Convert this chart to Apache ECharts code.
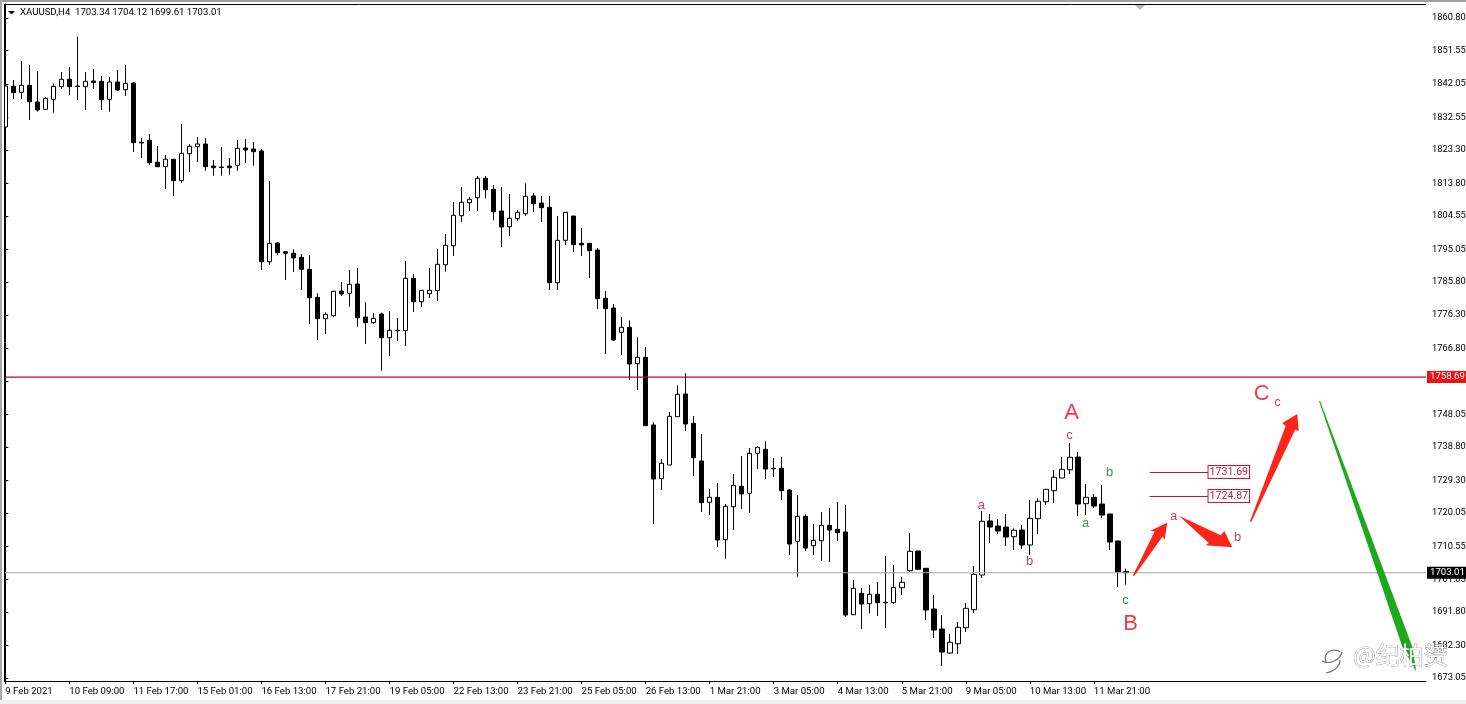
<!DOCTYPE html>
<html><head><meta charset="utf-8">
<style>html,body{margin:0;padding:0;background:#fff}#c{width:1466px;height:704px}</style>
<script src="https://cdn.jsdelivr.net/npm/echarts@6/dist/echarts.min.js"></script>
</head><body><div id="c"></div>
<script>
const timeLabels = ['9 Feb 2021','10 Feb 09:00','11 Feb 17:00','15 Feb 01:00','16 Feb 13:00','17 Feb 21:00','19 Feb 05:00','22 Feb 13:00','23 Feb 21:00','25 Feb 05:00','26 Feb 13:00','1 Mar 21:00','3 Mar 05:00','4 Mar 13:00','5 Mar 21:00','9 Mar 05:00','10 Mar 13:00','11 Mar 21:00'];
const priceTicks = [1860.80,1851.55,1842.05,1832.55,1823.30,1813.80,1804.55,1795.05,1785.80,1776.30,1766.80,1757.55,1748.05,1738.80,1729.30,1720.05,1710.55,1701.05,1691.80,1682.30,1673.05];
const opens = [1829.83,1841.41,1839.70,1841.69,1836.94,1834.86,1837.71,1841.29,1843.40,1841.49,1841.29,1842.92,1842.83,1837.71,1842.63,1840.44,1842.35,1825.48,1826.04,1819.79,
1818.53,1820.64,1814.55,1822.23,1824.22,1824.99,1818.73,1818.45,1818.73,1818.93,1823.85,1823.57,1823.00,1791.51,1796.83,1794.35,1793.90,1792.76,1789.34,1781.38,
1775.29,1776.14,1783.17,1782.52,1785.16,1775.77,1774.15,1776.63,1769.88,1771.99,1771.88,1786.78,1780.13,1782.40,1783.26,1790.65,1796.06,1804.59,1808.29,1809.72,
1815.23,1812.10,1805.93,1801.46,1803.74,1805.16,1810.20,1808.21,1806.98,1785.53,1797.59,1804.51,1796.74,1796.74,1794.83,1781.09,1778.33,1771.42,1772.84,1762.49,
1764.31,1745.05,1729.77,1733.67,1747.41,1753.87,1745.53,1734.81,1723.06,1724.48,1712.42,1721.80,1727.61,1725.62,1737.00,1738.13,1732.73,1732.73,1726.55,1711.96,
1719.07,1710.71,1712.13,1716.51,1715.37,1714.61,1691.08,1697.17,1694.21,1696.88,1694.61,1694.49,1698.76,1703.60,1709.20,1704.28,1692.70,1687.01,1680.18,1682.83,
1687.38,1692.50,1702.37,1717.74,1716.31,1716.03,1713.27,1715.17,1710.91,1718.39,1723.23,1726.36,1729.97,1732.33,1735.94,1722.66,1724.48,1722.57,1719.73,1712.05,1703.34];
const closes = [1841.49,1839.59,1841.69,1837.03,1834.66,1837.99,1841.41,1843.40,1841.29,1841.35,1842.83,1842.49,1837.60,1842.63,1840.35,1842.26,1825.36,1825.28,1819.67,1818.53,
1820.64,1814.55,1822.35,1824.34,1824.99,1818.53,1818.25,1818.31,1818.25,1823.77,1823.28,1822.80,1791.51,1796.74,1794.07,1793.90,1792.56,1789.34,1781.26,1775.29,
1776.54,1783.09,1782.32,1785.08,1775.58,1774.15,1775.40,1769.88,1771.99,1771.88,1786.78,1780.13,1783.37,1783.37,1790.77,1796.17,1804.71,1808.41,1809.26,1815.23,
1811.99,1805.73,1801.38,1803.85,1805.56,1810.11,1808.01,1806.87,1785.53,1797.59,1805.56,1796.34,1796.26,1794.64,1780.98,1778.13,1769.23,1772.84,1762.40,1764.31,
1744.85,1729.68,1734.15,1747.52,1753.78,1745.33,1735.74,1722.94,1724.48,1712.33,1721.92,1727.89,1725.42,1737.00,1738.70,1732.53,1732.61,1726.36,1711.19,1719.07,
1710.05,1712.24,1716.51,1715.17,1714.41,1690.99,1698.59,1694.12,1696.88,1694.49,1694.49,1698.87,1700.30,1709.12,1703.99,1692.41,1686.72,1680.47,1683.23,1687.49,
1692.90,1702.57,1717.65,1716.03,1714.89,1713.18,1715.09,1710.91,1718.50,1723.34,1726.75,1730.17,1732.44,1735.86,1722.57,1724.48,1722.00,1719.44,1711.76,1703.23,1703.01];
const lows = [1828.69,1837.79,1837.79,1831.82,1834.18,1834.58,1833.90,1840.64,1838.93,1837.51,1834.66,1840.64,1834.66,1834.18,1840.16,1838.65,1822.72,1821.01,1819.10,1818.53,
1812.19,1810.20,1813.98,1817.03,1819.87,1817.40,1815.97,1815.97,1816.26,1817.40,1819.59,1818.82,1789.14,1790.57,1793.50,1786.30,1788.58,1783.45,1773.78,1769.23,
1770.94,1775.69,1781.75,1778.70,1773.01,1768.09,1773.87,1760.50,1764.68,1768.95,1767.52,1777.20,1778.62,1781.18,1780.33,1788.66,1793.13,1802.80,1805.93,1805.93,
1809.54,1803.28,1795.69,1798.82,1803.17,1804.59,1805.65,1802.80,1783.45,1783.45,1796.26,1794.27,1793.13,1786.87,1778.05,1765.25,1769.03,1764.96,1757.85,1755.00,
1744.85,1716.88,1726.55,1733.67,1747.41,1743.34,1730.54,1720.30,1719.44,1710.34,1707.01,1715.17,1721.15,1720.01,1732.53,1729.68,1730.25,1723.71,1708.06,1701.89,
1709.20,1708.06,1706.36,1706.07,1712.05,1690.42,1691.08,1687.01,1691.48,1690.71,1687.29,1694.12,1696.68,1703.31,1703.79,1689.57,1684.45,1676.48,1679.98,1679.90,
1686.16,1691.56,1701.52,1711.48,1714.04,1710.62,1709.48,1709.77,1708.06,1714.04,1722.29,1722.86,1729.88,1731.11,1719.16,1719.44,1721.43,1718.59,1709.48,1698.96,1699.61];
const highs = [1841.78,1843.20,1848.61,1847.47,1845.76,1838.28,1842.26,1845.48,1846.90,1855.52,1845.48,1846.33,1844.34,1844.05,1846.04,1847.47,1842.63,1826.70,1827.84,1824.42,
1821.86,1820.64,1830.68,1824.91,1826.98,1826.70,1820.44,1824.14,1821.01,1826.13,1826.41,1825.56,1823.57,1814.47,1797.11,1794.35,1795.03,1793.70,1793.41,1782.52,
1777.11,1783.26,1785.73,1789.14,1789.71,1779.96,1776.83,1777.00,1777.48,1775.49,1791.71,1788.01,1783.37,1789.71,1795.12,1799.39,1808.49,1812.76,1809.91,1815.89,
1815.89,1813.33,1812.76,1810.77,1806.13,1813.81,1811.05,1810.20,1810.20,1804.51,1805.56,1804.51,1801.09,1796.74,1795.40,1783.17,1779.47,1775.77,1774.83,1770.00,
1767.24,1745.82,1735.37,1748.75,1756.34,1759.76,1747.61,1742.49,1726.84,1728.55,1722.57,1731.11,1736.23,1738.50,1739.07,1740.41,1735.66,1735.94,1726.84,1725.13,
1719.64,1716.88,1720.30,1721.43,1723.14,1722.29,1700.95,1698.67,1699.53,1700.38,1707.78,1705.22,1701.80,1714.32,1709.20,1704.28,1696.68,1690.99,1685.59,1689.00,
1694.41,1704.93,1720.58,1719.73,1718.30,1719.73,1715.66,1716.60,1723.71,1724.19,1726.75,1732.24,1735.94,1739.93,1737.37,1728.26,1725.42,1727.98,1719.73,1712.05,1704.12];
const lineLevels = [1731.69,1724.87];
const resistanceLevel = 1758.69;
const lastPrice = 1703.01;
const waveLabelsBig = [['A',133.21,1748.47],['B',140.59,1688.44],['C',156.96,1753.90]];
const waveLabelsMinor = [['a',121.96,1722.29],['b',127.96,1706.36],['c',132.96,1742.20],['a',145.96,1719.16],['b',153.96,1713.18],['c',158.96,1751.60]];
const waveLabelsGreen = [['a',134.96,1717.17],['b',137.96,1731.68],['c',139.96,1695.26]];
const arrowOne = [[140.88,1702.20],[143.60,1714.75],[143.05,1715.00],[145.17,1717.26],[144.85,1712.40],[144.60,1713.30],[141.02,1702.00]];
const arrowTwo = [[146.63,1719.26],[151.85,1713.67],[152.30,1714.90],[153.29,1710.24],[149.98,1710.81],[150.35,1711.50],[146.70,1719.06]];
const arrowThree = [[155.50,1717.60],[159.95,1744.70],[159.55,1745.62],[161.42,1748.18],[161.60,1743.33],[161.15,1743.72],[155.68,1717.50]];
const greenWedge = [[164.13,1751.88],[164.27,1751.88],[175.79,1681.98],[176.29,1674.87],[174.54,1681.98]];

const UI = 'Roboto, "Liberation Sans", sans-serif';
const BAR_COUNT = 178;
const categories = Array.from({length:BAR_COUNT},(_,i)=> (i%8===0 && timeLabels[i/8]) || ('bar '+i));
const isTimeTick = i => i%8===0 && i/8 < timeLabels.length;
const ohlc = opens.map((o,i)=>[o,closes[i],lows[i],highs[i]]);

const polygon = (name,pts,fill) => ({
  type:'custom',name,xAxisIndex:1,yAxisIndex:0,z:6,silent:true,clip:false,
  data:pts,
  encode:{x:0,y:1},
  renderItem:(p,api)=> p.dataIndex!==0 ? null : ({type:'polygon',shape:{points:pts.map(q=>api.coord(q))},style:{fill}})
});
const labels = (name,rows,color,size) => ({
  type:'scatter',name,xAxisIndex:1,yAxisIndex:0,symbolSize:0,z:7,silent:true,
  data:rows.map(r=>({name:r[0],value:[r[1],r[2]]})),
  label:{show:true,position:'inside',formatter:'{b}',color,fontSize:size,fontFamily:'"Liberation Sans", Arial, sans-serif'}
});
const priceLine = (name,value,lineColor,width,tagColor) => ({
  type:'line',name,xAxisIndex:1,yAxisIndex:0,symbol:'none',z:5,silent:true,clip:false,
  data:[[-0.5,value],[177.5,value]],
  lineStyle:{color:lineColor,width,type:'solid'},
  itemStyle:{color:lineColor},
  endLabel:{show:true,distance:1,formatter:value.toFixed(2),color:'#fff',backgroundColor:tagColor,padding:[1,3,1,3],fontSize:9.6,fontFamily:UI}
});

const chart = echarts.init(document.getElementById('c'),null,{renderer:'canvas'});
chart.setOption({
  animation:false,
  backgroundColor:'#fff',
  grid:{left:1.33,right:40,top:4,bottom:23,show:false,outerBoundsMode:'none'},
  xAxis:[
    {type:'category',data:categories,boundaryGap:true,
     axisLine:{show:true,lineStyle:{color:'#000',width:1}},
     axisTick:{show:true,interval:(i)=>isTimeTick(i),alignWithLabel:true,length:3,lineStyle:{color:'#000'}},
     axisLabel:{show:true,interval:(i)=>isTimeTick(i),align:'left',margin:6,hideOverlap:false,color:'#000',fontSize:9.6,fontFamily:UI},
     splitLine:{show:false}},
    {type:'value',min:-0.5,max:177.5,show:false,splitLine:{show:false}}
  ],
  yAxis:[{type:'value',position:'right',min:1672.22,max:1864.82,scale:true,
     axisLine:{show:true,lineStyle:{color:'#000',width:1}},
     axisTick:{show:true,length:3,customValues:priceTicks,lineStyle:{color:'#000'}},
     axisLabel:{show:true,customValues:priceTicks,margin:6,padding:[4,0,0,0],color:'#000',fontSize:9.3,fontFamily:UI,formatter:v=>v.toFixed(2)},
     splitLine:{show:false}}],
  series:[
    {type:'candlestick',name:'XAUUSD,H4',xAxisIndex:0,yAxisIndex:0,barWidth:5,data:ohlc,silent:true,
     itemStyle:{color:'#fff',color0:'#000',borderColor:'#000',borderColor0:'#000',borderWidth:1}},
    priceLine('resistance',resistanceLevel,'#c8001e',1.3,'#f01010'),
    priceLine('last price',lastPrice,'#a4a4a4',1.1,'#000'),
    polygon('arrow 1',arrowOne,'#fb2618'),
    polygon('arrow 2',arrowTwo,'#fb2618'),
    polygon('arrow 3',arrowThree,'#fb2618'),
    polygon('green wedge',greenWedge,'#1fa81c'),
    labels('major waves',waveLabelsBig,'#f00a14',22),
    labels('minor waves',waveLabelsMinor,'#b81038',13),
    labels('green waves',waveLabelsGreen,'#0f7a18',13),
    {type:'scatter',name:'levels',xAxisIndex:1,yAxisIndex:0,symbolSize:0,data:[],z:5,silent:true,
     markLine:{silent:true,symbol:'none',animation:false,
       data:lineLevels.map(v=>[
         {coord:[142.96,v],lineStyle:{color:'#c8143c',width:1,type:'solid'},
          label:{show:true,position:'end',distance:0,formatter:v.toFixed(2),color:'#c0204a',backgroundColor:'#fff',borderColor:'#c8143c',borderWidth:1,padding:[1,1,0,1],fontSize:10.6,fontFamily:UI}},
         {coord:[150.33,v]}
       ])}}
  ],
  graphic:[
    {type:'rect',z:100,silent:true,shape:{x:0,y:0,width:4,height:704},style:{fill:'#fff'}},
    {type:'rect',z:101,silent:true,shape:{x:0,y:0,width:1466,height:2},style:{fill:'#a0a0a0'}},
    {type:'rect',z:101,silent:true,shape:{x:0,y:0,width:2,height:700},style:{fill:'#a8a8a8'}},
    {type:'rect',z:101,silent:true,shape:{x:0,y:700,width:1466,height:4},style:{fill:'#f0f0f0'}},
    {type:'line',z:102,silent:true,shape:{x1:4.5,y1:4,x2:4.5,y2:681},style:{stroke:'#000',lineWidth:1}},
    {type:'line',z:102,silent:true,shape:{x1:4,y1:4.5,x2:1426,y2:4.5},style:{stroke:'#000',lineWidth:1}},
    {type:'polygon',z:103,silent:true,shape:{points:[[8,11],[15,11],[11.5,14.5]]},style:{fill:'#000'}},
    {type:'polygon',z:103,silent:true,shape:{points:[[1135,5],[1145,5],[1140,10]]},style:{fill:'#b8b8b8'}},
    {type:'text',z:103,silent:true,style:{x:20,y:8,text:'XAUUSD,H4  1703.34 1704.12 1699.61 1703.01',fill:'#000',fontSize:9.6,fontFamily:UI}},
    {type:'text',z:110,silent:true,style:{x:1353,y:643,text:'@纪柏赟',fill:'rgba(255,255,255,0.9)',stroke:'#777',lineWidth:0.6,fontSize:24,fontFamily:'"Noto Sans CJK SC"'}},
    {type:'bezierCurve',z:110,silent:true,shape:{x1:1326,y1:662,cpx1:1322,cpy1:650,cpx2:1336,cpy2:648,x2:1340,y2:652},style:{fill:null,stroke:'#777',lineWidth:1.2}},
    {type:'bezierCurve',z:110,silent:true,shape:{x1:1322,y1:661,cpx1:1330,cpy1:665,cpx2:1340,cpy2:660,x2:1342,y2:652},style:{fill:null,stroke:'#777',lineWidth:1.2}},
    {type:'bezierCurve',z:110,silent:true,shape:{x1:1326,y1:673,cpx1:1336,cpy1:671,cpx2:1340,cpy2:665,x2:1340,y2:660},style:{fill:null,stroke:'#777',lineWidth:1.2}}
  ]
});
</script></body></html>
